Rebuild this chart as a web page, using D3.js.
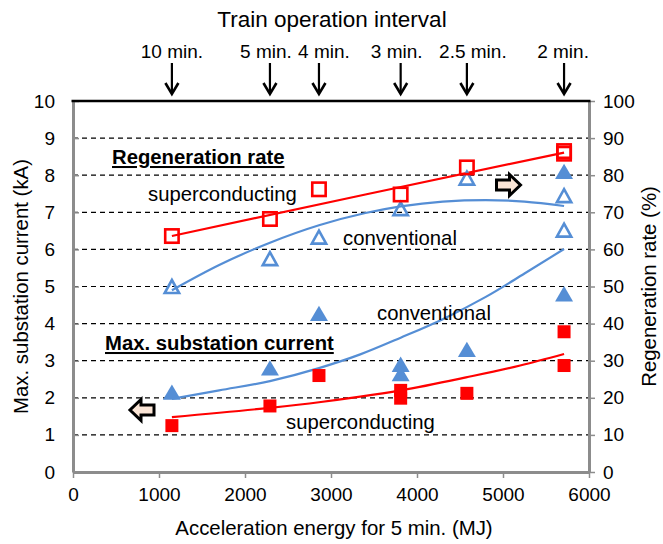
<!DOCTYPE html>
<html>
<head>
<meta charset="utf-8">
<script src="https://cdn.jsdelivr.net/npm/d3@7"></script>
<style>
  html, body { margin: 0; padding: 0; background: #fff; }
  svg { display: block; font-family: Arial, "Liberation Sans", sans-serif; }
</style>
</head>
<body>
<svg id="chart" width="663" height="544"></svg>
<script>
// ---- data ----------------------------------------------------------------
// Train operation intervals and the acceleration energy (MJ per 5 min) of each
const intervalLabels = ["10 min.", "5 min.", "4 min.", "3 min.", "2.5 min.", "2 min."];
const intervalEnergy = [1150, 2290, 2860, 3810, 4580, 5710];

// Axis ticks
const xTicks = [0, 1000, 2000, 3000, 4000, 5000, 6000];
const currentTicks = [0, 1, 2, 3, 4, 5, 6, 7, 8, 9, 10];
const rateTicks = [0, 10, 20, 30, 40, 50, 60, 70, 80, 90, 100];

// Regeneration rate (%), right axis  [energy MJ, rate %]
const regenSuper = [[1150, 63.6], [2290, 68.2], [2860, 76.2], [3810, 74.8], [4580, 82.1], [5710, 86.5], [5710, 85.8]];
const regenConv  = [[1150, 50.0], [2290, 57.5], [2860, 63.3], [3810, 71.0], [4580, 79.2], [5710, 74.5], [5710, 65.2]];

// Max. substation current (kA), left axis  [energy MJ, current kA]
const currentSuper = [[1150, 1.25], [2290, 1.78], [2860, 2.6], [3810, 2.2], [3810, 1.99], [4580, 2.12], [5710, 3.78], [5710, 2.87]];
const currentConv  = [[1150, 2.15], [2290, 2.8], [2860, 4.27], [3810, 2.9], [3810, 2.65], [4580, 3.3], [5710, 4.8], [5710, 8.1]];

// Trend curves
const regenSuperTrend = [[1150, 63.6], [3400, 74.8], [5710, 86.1]];
const regenConvTrend = [[1150, 49.0], [1700, 55.8], [2290, 61.8], [2860, 66.5], [3400, 69.8], [3810, 71.6], [4300, 72.9], [4800, 73.3], [5250, 72.9], [5710, 71.7]];
const currentSuperTrend = [[1150, 1.48], [2290, 1.73], [2860, 1.88], [3340, 2.03], [3810, 2.2], [4570, 2.55], [5200, 2.87], [5710, 3.18]];
const currentConvTrend = [[1150, 1.97], [1700, 2.2], [2290, 2.45], [2860, 2.8], [3340, 3.17], [3810, 3.62], [4300, 4.12], [4800, 4.72], [5250, 5.35], [5710, 6.01]];

// ---- layout --------------------------------------------------------------
const RED = "#ff0000", BLUE = "#558ed5", AXIS_GREY = "#8c8c8c";
const plotLeft = 73, plotRight = 589, plotTop = 101, plotBottom = 472;

const svg = d3.select("#chart");
const x = d3.scaleLinear().domain([0, 6000]).range([plotLeft, plotRight]);
const yL = d3.scaleLinear().domain([0, 10]).range([plotBottom, plotTop]);
const yR = d3.scaleLinear().domain([0, 100]).range([plotBottom, plotTop]);

// dashed horizontal gridlines
svg.append("g").selectAll("line")
  .data(currentTicks.filter(d => d > 0 && d < 10))
  .join("line")
  .attr("x1", plotLeft).attr("x2", plotRight)
  .attr("y1", d => yL(d)).attr("y2", d => yL(d))
  .attr("stroke", "#000").attr("stroke-width", 1.2)
  .attr("stroke-dasharray", "5,4");

// trend curves
const lineR = d3.line().x(d => x(d[0])).y(d => yR(d[1])).curve(d3.curveMonotoneX);
const lineL = d3.line().x(d => x(d[0])).y(d => yL(d[1])).curve(d3.curveMonotoneX);
const curves = svg.append("g").attr("fill", "none").attr("stroke-width", 2.2);
curves.append("path").attr("d", lineR(regenSuperTrend)).attr("stroke", RED);
curves.append("path").attr("d", lineR(regenConvTrend)).attr("stroke", BLUE);
curves.append("path").attr("d", lineL(currentSuperTrend)).attr("stroke", RED);
curves.append("path").attr("d", lineL(currentConvTrend)).attr("stroke", BLUE);

// markers
const openTri = "M0,-6.5L7.2,6.5L-7.2,6.5Z";
const fullTri = "M0,-7.8L9,7.5L-9,7.5Z";

svg.append("g").selectAll("path")
  .data(currentConv).join("path")
  .attr("transform", d => `translate(${x(d[0])},${yL(d[1])})`)
  .attr("d", fullTri).attr("fill", BLUE);

svg.append("g").selectAll("rect")
  .data(currentSuper).join("rect")
  .attr("x", d => x(d[0]) - 6.5).attr("y", d => yL(d[1]) - 6.5)
  .attr("width", 13).attr("height", 13).attr("fill", RED);

svg.append("g").selectAll("path")
  .data(regenConv).join("path")
  .attr("transform", d => `translate(${x(d[0])},${yR(d[1])})`)
  .attr("d", openTri).attr("fill", "none")
  .attr("stroke", BLUE).attr("stroke-width", 2.6).attr("stroke-linejoin", "miter");

svg.append("g").selectAll("rect")
  .data(regenSuper).join("rect")
  .attr("x", d => x(d[0]) - 6.7).attr("y", d => yR(d[1]) - 6.7)
  .attr("width", 13.4).attr("height", 13.4)
  .attr("fill", "none").attr("stroke", RED).attr("stroke-width", 2.6);

// axes
function styleAxis(g) {
  g.select(".domain").attr("stroke", AXIS_GREY).attr("stroke-width", 3);
  g.selectAll(".tick line").attr("stroke", AXIS_GREY).attr("stroke-width", 1.5);
  g.selectAll(".tick text").attr("fill", "#000").attr("font-size", 19)
    .attr("font-family", "Arial, 'Liberation Sans', sans-serif");
}
svg.append("g").attr("transform", `translate(0,${plotBottom})`)
  .call(d3.axisBottom(x).tickValues(xTicks).tickFormat(d3.format("d"))
    .tickSizeInner(6).tickSizeOuter(0).tickPadding(10))
  .call(styleAxis);
svg.append("g").attr("transform", `translate(${plotLeft},0)`)
  .call(d3.axisLeft(yL).tickValues(currentTicks).tickSizeInner(-6).tickSizeOuter(0).tickPadding(18))
  .call(styleAxis);
svg.append("g").attr("transform", `translate(${plotRight},0)`)
  .call(d3.axisRight(yR).tickValues(rateTicks).tickSizeInner(6).tickSizeOuter(0).tickPadding(8))
  .call(styleAxis);

// top border
svg.append("line").attr("x1", plotLeft - 1.5).attr("x2", plotRight + 1.5)
  .attr("y1", plotTop).attr("y2", plotTop).attr("stroke", "#000").attr("stroke-width", 2.6);

// axis titles
const font = "Arial, 'Liberation Sans', sans-serif";
svg.append("text").attr("x", 334).attr("y", 535)
  .attr("text-anchor", "middle").attr("font-size", 20.4).attr("font-family", font)
  .text("Acceleration energy for 5 min. (MJ)");
svg.append("text").attr("transform", `translate(28,${(plotTop + plotBottom) / 2}) rotate(-90)`)
  .attr("text-anchor", "middle").attr("font-size", 20.4).attr("font-family", font)
  .text("Max. substation current (kA)");
svg.append("text").attr("transform", `translate(656,${(plotTop + plotBottom) / 2}) rotate(-90)`)
  .attr("text-anchor", "middle").attr("font-size", 20.4).attr("font-family", font)
  .text("Regeneration rate (%)");

// train operation interval header with down arrows
svg.append("text").attr("x", 332).attr("y", 27)
  .attr("text-anchor", "middle").attr("font-size", 22.5).attr("font-family", font)
  .text("Train operation interval");
const labelNudge = [0, -4, 5, -4, 6, -1];
const heads = svg.append("g");
intervalEnergy.forEach((e, i) => {
  const cx = x(e);
  heads.append("text").attr("x", cx + labelNudge[i]).attr("y", 58)
    .attr("text-anchor", "middle").attr("font-size", 19).attr("font-family", font)
    .text(intervalLabels[i]);
  heads.append("path").attr("d", `M${cx},63V93`)
    .attr("stroke", "#000").attr("stroke-width", 2.2).attr("fill", "none");
  heads.append("path").attr("d", `M${cx - 6.5},83L${cx},94L${cx + 6.5},83`)
    .attr("stroke", "#000").attr("stroke-width", 2.6).attr("fill", "none")
    .attr("stroke-linejoin", "miter");
});

// in-plot labels
function label(tx, ty, str, bold) {
  const t = svg.append("text").attr("x", tx).attr("y", ty)
    .attr("font-size", 20.3).attr("font-family", font).text(str);
  if (bold) t.attr("font-weight", "bold").style("text-decoration", "underline");
  return t;
}
label(112, 164, "Regeneration rate", true);
label(148, 201, "superconducting");
label(343, 245, "conventional");
label(377, 320, "conventional");
label(105, 350, "Max. substation current", true);
label(286, 429, "superconducting");

// block arrows pointing to the axis each group is read against
const blockArrow = "M-12,-5L1,-5L1,-10.5L12,0L1,10.5L1,5L-12,5Z";
svg.append("path").attr("d", blockArrow)
  .attr("transform", "translate(508.5,185)")
  .attr("fill", "#fbe5d6").attr("stroke", "#000").attr("stroke-width", 3)
  .attr("stroke-linejoin", "miter");
svg.append("path").attr("d", blockArrow)
  .attr("transform", "translate(142,410) scale(-1,1)")
  .attr("fill", "#fbe5d6").attr("stroke", "#000").attr("stroke-width", 3)
  .attr("stroke-linejoin", "miter");
</script>
</body>
</html>
